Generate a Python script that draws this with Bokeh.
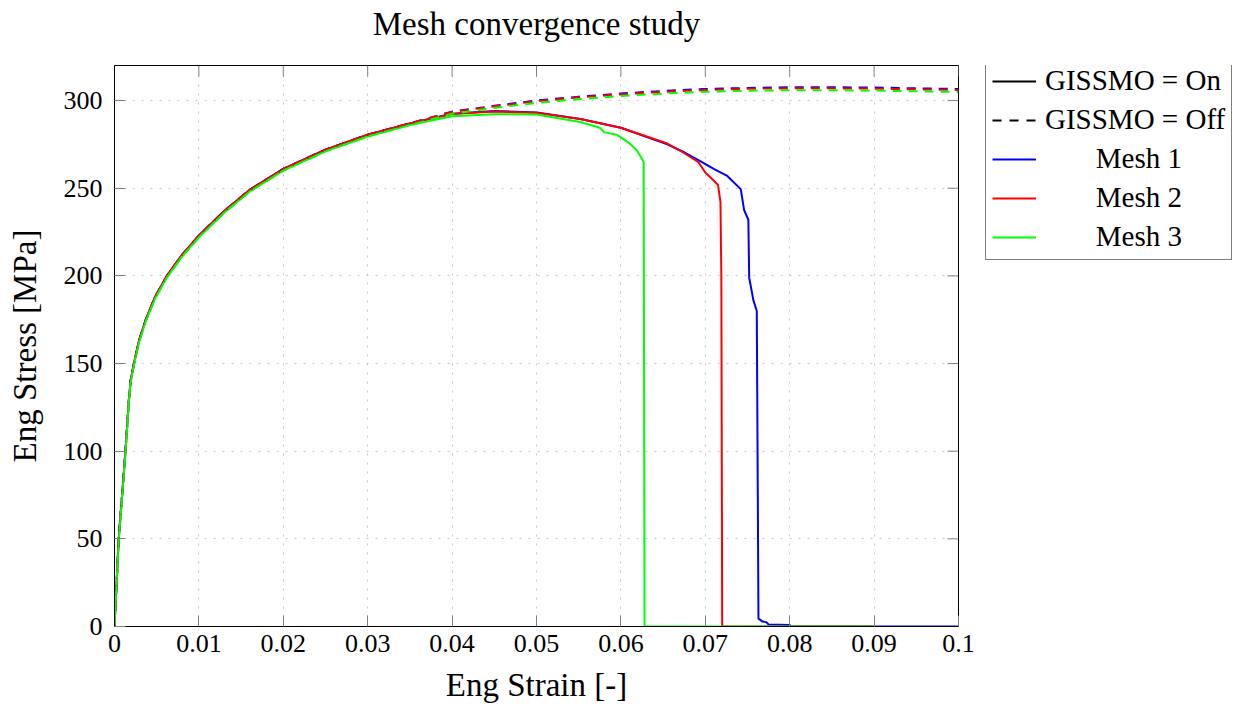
from bokeh.plotting import figure
from bokeh.layouts import row
from bokeh.models import Range1d, FixedTicker, Legend, LegendItem
from bokeh.embed import file_html
from bokeh.resources import INLINE

# ---------------- data ----------------
strain_pre = [0, 0.0005, 0.0013, 0.0017, 0.0019, 0.0023, 0.0029, 0.0037, 0.0048, 0.0062,
              0.008, 0.01, 0.013, 0.016, 0.02, 0.025, 0.03, 0.035]
stress_pre_12 = [0, 50, 100, 129, 140, 150, 163, 175, 188, 200,
                 212, 223, 237, 249, 261, 272, 280.5, 287]
stress_pre_3 = [0, 49, 99, 128, 139, 149, 162, 174, 187, 199,
                211, 222, 236, 248, 260, 271, 279.5, 286]

strain_on_1 = [0.04, 0.045, 0.05, 0.0552, 0.06, 0.0655, 0.0675, 0.0694, 0.071, 0.0726,
               0.0742, 0.0746, 0.0751, 0.0752, 0.0757, 0.0761, 0.0763, 0.0768, 0.0772,
               0.0775, 0.080, 0.0802, 0.1]
stress_on_1 = [292.5, 294, 293.2, 289.5, 284.5, 275, 270.5, 265.5, 261, 257,
               249.5, 237.5, 232, 199, 186, 180, 4.5, 2.8, 2.5,
               1.2, 0.8, 0, 0]

strain_on_2 = [0.04, 0.045, 0.05, 0.0552, 0.06, 0.0655, 0.067, 0.0692, 0.070, 0.0715,
               0.0718, 0.0719, 0.072, 0.09]
stress_on_2 = [292.3, 293.8, 293, 289.5, 284.5, 275.5, 271.5, 264.8, 259, 252,
               242, 200, 0, 0]

strain_on_3 = [0.04, 0.045, 0.05, 0.0552, 0.0575, 0.058, 0.0595, 0.06, 0.0611, 0.0619,
               0.0624, 0.0627, 0.0628, 0.09]
stress_on_3 = [291, 292.2, 292, 287.8, 284.5, 282, 280.5, 279, 275.3, 271.5,
               267.7, 265, 0, 0]

strain_off = [0.04, 0.045, 0.05, 0.055, 0.06, 0.065, 0.07, 0.075, 0.08, 0.085, 0.09, 0.095, 0.1]
stress_off_1 = [293.7, 297, 300, 302.2, 304, 305.5, 306.6, 307.2, 307.6, 307.6, 307.4, 307, 306.6]
stress_off_2 = [293.5, 296.7, 299.6, 301.8, 303.5, 305, 306, 306.7, 307, 307, 306.8, 306.4, 306]
stress_off_3 = [292.5, 295.8, 298.7, 300.8, 302.6, 304, 305, 305.6, 305.9, 305.9, 305.7, 305.3, 304.9]

x_ticks = [0, 0.01, 0.02, 0.03, 0.04, 0.05, 0.06, 0.07, 0.08, 0.09, 0.1]
x_tick_labels = ["0", "0.01", "0.02", "0.03", "0.04", "0.05", "0.06", "0.07", "0.08", "0.09", "0.1"]
y_ticks = [0, 50, 100, 150, 200, 250, 300]

mesh_names = ["Mesh 1", "Mesh 2", "Mesh 3"]
mesh_colors = ["#0000ff", "#ff0000", "#00ff00"]

X_MIN, X_MAX = 0, 0.1
Y_MIN, Y_MAX = 0, 320

FONT = "Liberation Serif"
W_MAIN, W_LEG, H = 980, 259, 706
BORDER_L, BORDER_R, BORDER_T, BORDER_B = 114, 22, 65, 80
TICK_PX = 11

# ---------------- main figure ----------------
p = figure(width=W_MAIN, height=H, output_backend="svg", toolbar_location=None,
           x_range=Range1d(X_MIN, X_MAX), y_range=Range1d(Y_MIN, Y_MAX),
           title="Mesh convergence study",
           min_border_left=BORDER_L, min_border_right=BORDER_R,
           min_border_top=BORDER_T, min_border_bottom=BORDER_B)

p.title.text_font = FONT
p.title.text_font_size = "33px"
p.title.text_font_style = "normal"
p.title.align = "center"
p.title.text_color = "black"
try:
    p.title.padding = dict(left=0, right=0, top=0, bottom=24)
    p.title.standoff = 0
except Exception:
    p.title.standoff = 26

p.outline_line_color = "black"
p.outline_line_width = 1
p.background_fill_color = "white"
p.border_fill_color = "white"

xt = FixedTicker(ticks=x_ticks)
yt = FixedTicker(ticks=y_ticks)

for ax in p.xaxis:
    ax.ticker = xt
    ax.major_label_overrides = {v: s for v, s in zip(x_ticks, x_tick_labels)}
    ax.axis_label = "Eng Strain [-]"
    ax.major_label_standoff = 8
    ax.axis_label_standoff = 12
for ax in p.yaxis:
    ax.ticker = yt
    ax.axis_label = "Eng Stress [MPa]"
    ax.major_label_standoff = 12
    ax.axis_label_standoff = 18

for ax in list(p.xaxis) + list(p.yaxis):
    ax.major_label_text_font = FONT
    ax.major_label_text_font_size = "26px"
    ax.major_label_text_color = "black"
    ax.axis_label_text_font = FONT
    ax.axis_label_text_font_size = "33px"
    ax.axis_label_text_font_style = "normal"
    ax.axis_label_text_color = "black"
    ax.major_tick_in = TICK_PX
    ax.major_tick_out = 0
    ax.major_tick_line_color = "#808080"
    ax.minor_tick_line_color = None
    ax.axis_line_color = "black"

p.xgrid.ticker = xt
p.ygrid.ticker = yt
for g in (p.xgrid, p.ygrid):
    g.grid_line_color = "#c8c8c8"
    g.grid_line_dash = "2 7"
    g.grid_line_width = 1

# mirrored ticks on the top and right frame edges (tick length converted to data units)
frame_w = W_MAIN - BORDER_L - BORDER_R
frame_h = H - BORDER_T - BORDER_B
dy_tick = TICK_PX * (Y_MAX - Y_MIN) / frame_h
dx_tick = TICK_PX * (X_MAX - X_MIN) / frame_w
p.segment(x0=x_ticks, y0=[Y_MAX] * len(x_ticks), x1=x_ticks, y1=[Y_MAX - dy_tick] * len(x_ticks),
          line_color="#808080", line_width=1)
p.segment(x0=[X_MAX] * len(y_ticks), y0=y_ticks, x1=[X_MAX - dx_tick] * len(y_ticks), y1=y_ticks,
          line_color="#808080", line_width=1)

# ---------------- curves ----------------
on_data = [
    (strain_pre + strain_on_1, stress_pre_12 + stress_on_1),
    (strain_pre + strain_on_2, stress_pre_12 + stress_on_2),
    (strain_pre + strain_on_3, stress_pre_3 + stress_on_3),
]
off_data = [
    (strain_pre + strain_off, stress_pre_12 + stress_off_1),
    (strain_pre + strain_off, stress_pre_12 + stress_off_2),
    (strain_pre + strain_off, stress_pre_3 + stress_off_3),
]

for (xs, ys), c in zip(on_data, mesh_colors):
    p.line(xs, ys, line_color=c, line_width=2)
for (xs, ys), c in zip(off_data, mesh_colors):
    p.line(xs, ys, line_color=c, line_width=2, line_dash="9 7")

# ---------------- legend panel ----------------
q = figure(width=W_LEG, height=H, output_backend="svg", toolbar_location=None,
           x_range=Range1d(0, 1), y_range=Range1d(0, 1),
           x_axis_type=None, y_axis_type=None,
           min_border_left=0, min_border_right=0, min_border_top=0, min_border_bottom=0)
q.outline_line_color = None
q.xgrid.visible = False
q.ygrid.visible = False
q.background_fill_color = "white"
q.border_fill_color = "white"

nan = float("nan")
on_proxy = q.line(x=[nan], y=[nan], line_color="black", line_width=2)
off_proxy = q.line(x=[nan], y=[nan], line_color="black", line_width=2, line_dash="9 8")
mesh_proxies = [q.line(x=[nan], y=[nan], line_color=c, line_width=2) for c in mesh_colors]

indent = "\u00a0" * 7
items = [LegendItem(label="GISSMO = On", renderers=[on_proxy]),
         LegendItem(label="GISSMO = Off", renderers=[off_proxy])]
for name, r in zip(mesh_names, mesh_proxies):
    items.append(LegendItem(label=indent + name, renderers=[r]))

LEG_H = 195
LEG_X = 985 - W_MAIN
# the legend panel's frame is aligned with the main frame (top 65, height frame_h)
legend = Legend(items=items, location=(LEG_X, frame_h - LEG_H), margin=0,
                border_line_color="black", border_line_width=1,
                background_fill_color="white", background_fill_alpha=1,
                label_text_font=FONT, label_text_font_size="29px",
                label_text_color="black",
                glyph_width=44, glyph_height=30, label_height=30,
                label_standoff=9, spacing=6, padding=6)
q.add_layout(legend)

layout = row(p, q)
open("out.html", "w").write(file_html(layout, INLINE))
